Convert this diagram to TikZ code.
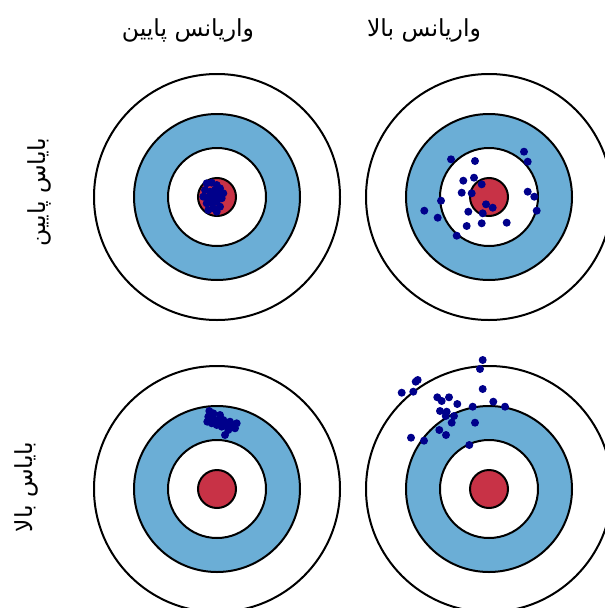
\documentclass[tikz,border=0pt]{standalone}
\usepackage{fontspec}
\TeXXeTstate=1
\newfontfamily\arabicfont[Script=Arabic]{DejaVu Sans}
\definecolor{ringblue}{RGB}{107,174,214}
\definecolor{bullred}{RGB}{200,50,70}
\definecolor{dotnavy}{RGB}{0,0,139}
\tikzset{
  ring/.style={draw=black,line width=2pt},
  shot/.style={fill=dotnavy},
  lbl/.style={font=\arabicfont\fontsize{23.5}{28}\selectfont,inner sep=0pt}
}
\begin{document}
\begin{tikzpicture}[x=1pt,y=-1pt]
\useasboundingbox (0,0) rectangle (605,608);
\clip (0,0) rectangle (605,608);
\fill[white] (0,0) rectangle (605,608);
% targets
\foreach \cx/\cy in {217/197,489/197,217/489,489/489}{
  \draw[ring,fill=white] (\cx,\cy) circle[radius=123pt];
  \draw[ring,fill=ringblue] (\cx,\cy) circle[radius=83pt];
  \draw[ring,fill=white] (\cx,\cy) circle[radius=49pt];
  \draw[ring,fill=bullred] (\cx,\cy) circle[radius=19pt];
}
% low bias, low variance
\foreach \x/\y in {206.7/183.3,211.7/182.7,216.7/185,205/190,210/191.7,215/190,220/188.3,203.3/196.7,208.3/197.3,213.3/196,218.3/195,221.7/198.3,206.7/203.3,211.7/202.7,216.7/201.7,213.3/208.3,220/206.7,208.3/210,216.7/211.7,223.3/193.3}
  \fill[shot] (\x,\y) circle[radius=4pt];
% low bias, high variance
\foreach \x/\y in {451/159.3,475/161,524/151.7,527.7/161.7,463.3/180.7,474/177.7,481.7/184.3,461.7/192.7,471.7/193.3,441/200.7,424.3/210.7,437.7/217.7,468.3/211.7,482.7/213.3,486/204.3,492.7/207.7,481.7/223.3,466.7/226,506.7/222.7,456.7/235.7,527.7/191.7,534.3/196.7,536.7/210.7}
  \fill[shot] (\x,\y) circle[radius=4pt];
% high bias, low variance
\foreach \x/\y in {209.3/411,213.3/413.3,208.3/416.7,207.3/421.7,211.7/423.3,216.7/425,220/415,223.3/420,218.3/421.7,221.7/426.7,226.7/425,230/421.7,233.3/425,236.7/423.3,235/428.3,228.3/430,225/435,213.3/418.3}
  \fill[shot] (\x,\y) circle[radius=4pt];
% high bias, high variance
\foreach \x/\y in {482.7/360,480/369,417.7/380,415.7/381.7,401.7/392.7,413.3/391.7,482.7/389,437.3/397.3,441.7/401,449/397.3,457.3/404,472.7/406.7,493.3/401.7,505/406.7,440/411,446.7/411.7,445.7/416,454/416,451.7/422.7,475/422.7,439.3/430,446/435,411/437.7,424/440.7,469.3/445}
  \fill[shot] (\x,\y) circle[radius=4pt];
% labels
\node[lbl] (lowvar) at (188,30) {\beginR واریانس پایین\endR};
\node[lbl] (highvar) at (424,30) {\beginR واریانس بالا\endR};
\node[lbl,rotate=90] (lowbias) at (39,192) {\beginR بایاس پایین\endR};
\node[lbl,rotate=90] (highbias) at (26,487) {\beginR بایاس بالا\endR};
\end{tikzpicture}
\end{document}
